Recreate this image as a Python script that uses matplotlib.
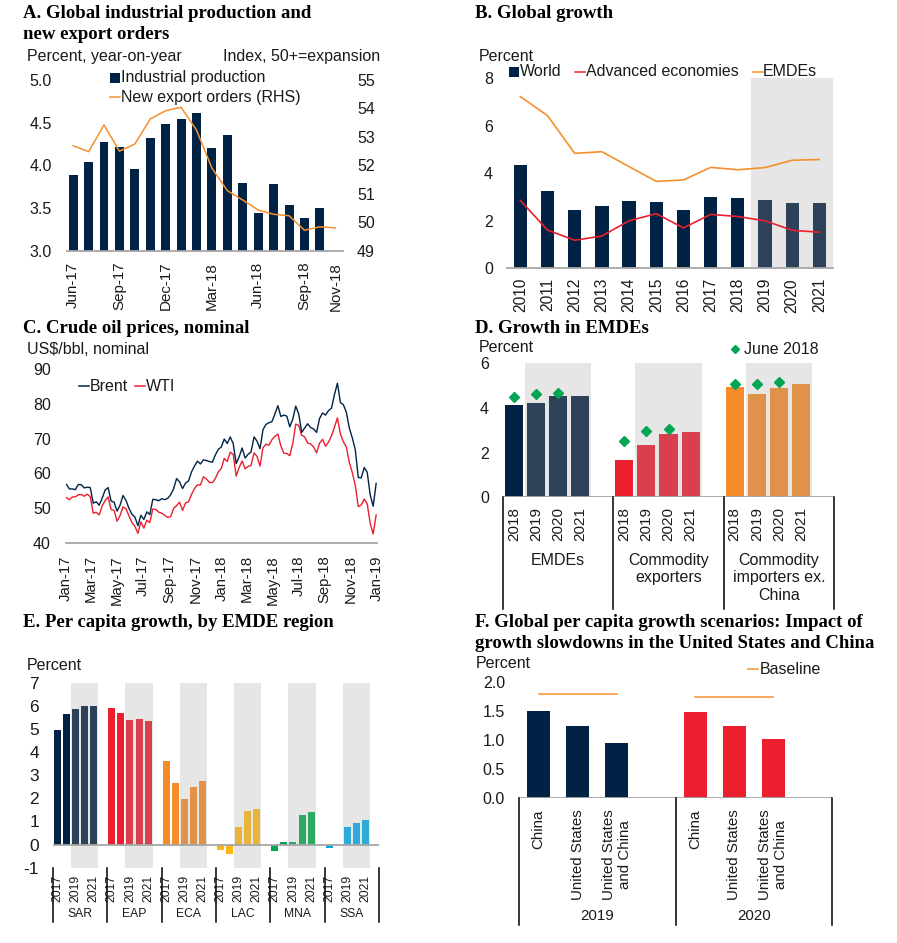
import matplotlib
matplotlib.use('Agg')
import matplotlib.pyplot as plt
import numpy as np
import pandas as pd
from matplotlib.patches import Rectangle
from matplotlib.lines import Line2D
from matplotlib.transforms import blended_transform_factory

# ---------------- DATA ----------------
# Panel A
months_a = ['Jun-17', 'Jul-17', 'Aug-17', 'Sep-17', 'Oct-17', 'Nov-17', 'Dec-17', 'Jan-18', 'Feb-18',
            'Mar-18', 'Apr-18', 'May-18', 'Jun-18', 'Jul-18', 'Aug-18', 'Sep-18', 'Oct-18', 'Nov-18']
ind_prod = [3.89, 4.04, 4.27, 4.21, 3.96, 4.32, 4.48, 4.54, 4.61, 4.20, 4.35, 3.79, 3.44, 3.78, 3.53, 3.38, 3.50]
new_export_orders = [52.69, 52.48, 53.42, 52.50, 52.75, 53.63, 53.92, 54.04, 53.24, 51.90, 51.11, 50.78,
                     50.43, 50.28, 50.23, 49.72, 49.84, 49.80]
a_tick_labels = ['Jun-17', 'Sep-17', 'Dec-17', 'Mar-18', 'Jun-18', 'Sep-18', 'Nov-18']

# Panel B
years_b = ['2010', '2011', '2012', '2013', '2014', '2015', '2016', '2017', '2018', '2019', '2020', '2021']
world_b = [4.34, 3.24, 2.46, 2.64, 2.84, 2.81, 2.47, 3.02, 2.95, 2.86, 2.75, 2.75]
advanced_b = [2.86, 1.61, 1.18, 1.36, 2.00, 2.30, 1.70, 2.27, 2.18, 2.00, 1.60, 1.52]
emdes_b = [7.23, 6.43, 4.84, 4.91, 4.28, 3.66, 3.72, 4.25, 4.15, 4.24, 4.55, 4.58]

# Panel C (weekly readings)
brent = [56.8, 55.5, 55.5, 55.3,
         56.8, 56.7, 55.8, 56.0,
         55.9, 51.4, 51.8, 50.8, 52.8,
         55.2, 55.9, 52.0, 51.7,
         49.1, 50.8, 53.6, 52.2,
         49.9, 48.2, 47.4, 44.9, 47.9,
         46.7, 48.9, 48.1, 52.5,
         52.4, 52.1, 52.7, 52.4,
         52.8, 53.8, 55.6, 58.5, 57.5,
         55.6, 57.2, 57.8, 60.4,
         62.1, 63.5, 62.7, 63.9,
         63.7, 63.4, 63.2, 65.3, 66.9,
         67.6, 69.9, 68.6, 70.5,
         68.6, 62.8, 64.8, 67.3,
         64.4, 65.5, 66.2, 70.5, 69.3,
         67.1, 72.6, 74.1, 74.6,
         74.9, 77.1, 79.5, 76.4,
         76.8, 76.5, 73.4, 75.6, 79.4,
         77.1, 71.8, 73.1, 74.3,
         73.2, 72.8, 71.8, 75.8, 77.4,
         76.8, 78.1, 78.8, 82.7,
         86.0, 80.4, 79.8, 77.6,
         73.0, 70.2, 66.8, 58.8, 58.7,
         61.7, 60.3, 53.8, 50.5,
         57.1]
wti = [53.0, 52.4, 53.2, 53.2,
       53.8, 53.9, 53.4, 54.0,
       53.3, 48.5, 48.8, 48.0, 50.6,
       52.2, 53.2, 49.6, 49.3,
       46.2, 47.8, 50.3, 49.8,
       47.7, 45.8, 44.7, 42.7, 46.0,
       44.2, 46.5, 45.8, 49.7,
       49.6, 48.8, 48.5, 47.9,
       47.3, 47.5, 49.9, 50.7, 51.7,
       49.3, 51.5, 51.8, 53.9,
       55.6, 56.7, 56.6, 59.0,
       58.4, 57.4, 57.3, 58.5, 60.4,
       61.4, 64.3, 63.4, 66.1,
       65.5, 59.2, 61.7, 63.6,
       61.3, 62.0, 62.3, 65.9, 64.9,
       62.1, 67.4, 68.4, 68.1,
       69.7, 70.7, 71.3, 67.9,
       65.8, 65.7, 65.1, 68.6, 74.2,
       73.8, 71.0, 70.5, 68.7,
       68.5, 67.6, 65.9, 68.7, 69.8,
       67.8, 69.0, 70.8, 73.3,
       76.0, 71.3, 69.1, 67.6,
       63.1, 60.2, 56.5, 50.4, 50.9,
       52.6, 51.2, 45.6, 42.5,
       48.0]

# Panel D
years_d = ['2018', '2019', '2020', '2021']
groups_d = ['EMDEs', 'Commodity\nexporters', 'Commodity\nimporters ex.\nChina']
emdes_d = [4.15, 4.21, 4.52, 4.55]
exporters_d = [1.67, 2.33, 2.85, 2.91]
importers_d = [4.94, 4.64, 4.91, 5.07]
june2018_emdes = [4.49, 4.63, 4.67]
june2018_exporters = [2.52, 2.96, 3.04]
june2018_importers = [5.06, 5.09, 5.15]

# Panel E
regions_e = ['SAR', 'EAP', 'ECA', 'LAC', 'MNA', 'SSA']
years_e = ['2017', '2018', '2019', '2020', '2021']
year_labels_e = ['2017', '', '2019', '', '2021']
sar = [4.95, 5.64, 5.86, 5.99, 5.99]
eap = [5.90, 5.69, 5.38, 5.43, 5.34]
eca = [3.61, 2.66, 1.96, 2.48, 2.74]
lac = [-0.23, -0.40, 0.75, 1.44, 1.53]
mna = [-0.27, 0.10, 0.10, 1.27, 1.40]
ssa = [-0.14, -0.02, 0.75, 0.92, 1.05]

# Panel F
years_f = ['2019', '2020']
scenarios_f = ['China', 'United States', 'United States\nand China']
f_2019 = [1.51, 1.25, 0.96]
f_2020 = [1.49, 1.24, 1.02]
baseline_f = [1.79, 1.74]

# ---------------- STYLE ----------------
W, H = 897, 943
SANS = ['Liberation Sans', 'DejaVu Sans']
SERIF = ['Liberation Serif', 'DejaVu Serif']
plt.rcParams['font.family'] = SANS
plt.rcParams['font.size'] = 11.5
plt.rcParams['axes.unicode_minus'] = False
TXT = '#1a1a1a'
AXGRAY = '#a6a6a6'
SHADE = '#e6e6e6'
NAVY, NAVY_F = '#002345', '#2d4159'
RED, RED_F = '#eb1f2e', '#d9404e'
ORANGE, ORANGE_F = '#f68b2a', '#e0924b'
YELLOW, YELLOW_F = '#fdb714', '#e8b43a'
GREEN, GREEN_F = '#00a651', '#2ba862'
BLUE, BLUE_F = '#00a3e0', '#2faad6'
LINE_OR = '#f5902d'
LINE_RED = '#eb1f2e'
DIAMOND = '#00a651'

fig = plt.figure(figsize=(W / 100, H / 100), dpi=100)


def ax_px(l, t, r, b):
    return fig.add_axes([l / W, 1 - b / H, (r - l) / W, (b - t) / H])


def ftext(x, y, s, **kw):
    kw.setdefault('color', TXT)
    return fig.text(x / W, 1 - y / H, s, **kw)


def title(x, y, s):
    ftext(x, y, s, fontfamily=SERIF, fontweight='bold', fontsize=13.5, va='baseline', color='black')


def leg_square(x0, yc, color, size=10):
    fig.add_artist(Rectangle((x0 / W, 1 - (yc + size / 2) / H), size / W, size / H,
                             transform=fig.transFigure, facecolor=color, edgecolor='none'))


def leg_line(x0, yc, color, length=10, lw=1.1):
    fig.add_artist(Line2D([x0 / W, (x0 + length) / W], [1 - yc / H] * 2,
                          transform=fig.transFigure, color=color, lw=lw))


def style(ax, ypad=10):
    for s in ['top', 'right', 'left']:
        ax.spines[s].set_visible(False)
    ax.spines['bottom'].set_color(AXGRAY)
    ax.spines['bottom'].set_linewidth(1.3)
    ax.tick_params(length=0, colors=TXT, labelsize=11.5)
    ax.tick_params(axis='y', pad=ypad)
    ax.set_facecolor('none')


def fy(ypx):
    return 1 - ypx / H


# ---------------- PANEL A ----------------
title(23, 18.3, 'A. Global industrial production and')
title(23, 39.3, 'new export orders')
ftext(27, 60.7, 'Percent, year-on-year', va='baseline', fontsize=11.5)
ftext(380, 60.7, 'Index, 50+=expansion', va='baseline', ha='right', fontsize=11.5)
axA = ax_px(67, 80, 343, 250.7)
xa = np.arange(len(months_a))
axA.bar(xa[:len(ind_prod)], ind_prod, width=0.58, color=NAVY, zorder=2)
axA.set_xlim(-0.4, len(months_a) - 0.5)
axA.set_ylim(3, 5)
axA.set_yticks(np.arange(3.0, 5.01, 0.5))
axA.set_yticklabels(['%.1f' % v for v in np.arange(3.0, 5.01, 0.5)])
style(axA, ypad=11)
tick_idx = [months_a.index(m) for m in a_tick_labels]
axA.set_xticks(tick_idx)
axA.set_xticklabels(a_tick_labels, rotation=90, fontsize=10.9)
axA.tick_params(axis='x', pad=8)
axA2 = axA.twinx()
axA2.plot(xa, new_export_orders, color=LINE_OR, lw=1.1, zorder=3)
axA2.set_ylim(49, 55)
axA2.set_yticks(range(49, 56))
for s in ['top', 'right', 'left', 'bottom']:
    axA2.spines[s].set_visible(False)
axA2.tick_params(length=0, colors=TXT, labelsize=11.5, pad=10)
leg_square(110, 77.7, NAVY)
ftext(121, 77.7, 'Industrial production', va='center', fontsize=11.5)
leg_line(110, 97.3, LINE_OR)
ftext(121, 97.3, 'New export orders (RHS)', va='center', fontsize=11.5)

# ---------------- PANEL B ----------------
title(475, 18.3, 'B. Global growth')
ftext(479, 60.7, 'Percent', va='baseline', fontsize=11.5)
axB = ax_px(506.7, 78.3, 833, 268.3)
xb = np.arange(len(years_b))
first_fc = years_b.index('2019')
axB.axvspan(first_fc - 0.5, len(years_b) - 0.5, color=SHADE, lw=0, zorder=0)
cols_b = [NAVY if i < first_fc else NAVY_F for i in range(len(years_b))]
axB.bar(xb, world_b, width=0.49, color=cols_b, zorder=2)
axB.plot(xb, advanced_b, color=LINE_RED, lw=1.2, zorder=3)
axB.plot(xb, emdes_b, color=LINE_OR, lw=1.2, zorder=3)
axB.set_xlim(-0.5, len(years_b) - 0.5)
axB.set_ylim(0, 8)
axB.set_yticks([0, 2, 4, 6, 8])
style(axB, ypad=10)
axB.set_xticks(xb)
axB.set_xticklabels(years_b, rotation=90, fontsize=11.2)
axB.tick_params(axis='x', pad=7)
leg_square(509.3, 71.7, NAVY)
ftext(520, 71.7, 'World', va='center', fontsize=11.5)
leg_line(575, 71.7, LINE_RED)
ftext(586, 71.7, 'Advanced economies', va='center', fontsize=11.5)
leg_line(752.7, 71.7, LINE_OR)
ftext(763, 71.7, 'EMDEs', va='center', fontsize=11.5)

# ---------------- PANEL C ----------------
title(23, 333.3, 'C. Crude oil prices, nominal')
ftext(27, 354, 'US$/bbl, nominal', va='baseline', fontsize=11.5)
axC = ax_px(66, 369.3, 377, 542.7)
dates_c = pd.date_range('2017-01-02', periods=len(brent), freq='7D')
axC.plot(dates_c, brent, color=NAVY, lw=1.0, zorder=3)
axC.plot(dates_c, wti, color=LINE_RED, lw=1.0, zorder=2)
axC.set_xlim(pd.Timestamp('2017-01-01'), pd.Timestamp('2019-01-02'))
axC.set_ylim(40, 90)
axC.set_yticks(range(40, 91, 10))
style(axC, ypad=11)
tick_dates = pd.date_range('2017-01-01', '2019-01-01', freq='2MS')
axC.set_xticks(tick_dates)
axC.set_xticklabels([d.strftime('%b-%y') for d in tick_dates], rotation=90, fontsize=10.7)
axC.tick_params(axis='x', pad=9)
leg_line(79.3, 386, NAVY)
ftext(90, 386, 'Brent', va='center', fontsize=11.5)
leg_line(135, 386, LINE_RED)
ftext(146, 386, 'WTI', va='center', fontsize=11.5)

# ---------------- PANEL D ----------------
title(475, 332.7, 'D. Growth in EMDEs')
ftext(479, 351.7, 'Percent', va='baseline', fontsize=11.5)
axD = ax_px(503, 363.3, 834, 497.3)
vals_d = [emdes_d, exporters_d, importers_d]
june_d = [june2018_emdes, june2018_exporters, june2018_importers]
cols_d = [(NAVY, NAVY_F), (RED, RED_F), (ORANGE, ORANGE_F)]
xt_d, xl_d = [], []
for g in range(3):
    base = g * 5
    axD.axvspan(base + 0.5, base + 3.5, color=SHADE, lw=0, zorder=0)
    xs = base + np.arange(len(years_d))
    axD.bar(xs, vals_d[g], width=0.82, color=[cols_d[g][0]] + [cols_d[g][1]] * 3, zorder=2)
    axD.plot(xs[:3], june_d[g], ls='none', marker='D', ms=5.2, color=DIAMOND, zorder=4)
    xt_d += list(xs)
    xl_d += years_d
axD.axhline(0, color=AXGRAY, lw=1.3, zorder=3)
axD.set_xlim(-0.5, 14.5)
axD.set_ylim(0, 6)
axD.set_yticks([0, 2, 4, 6])
style(axD, ypad=10)
axD.spines['bottom'].set_visible(False)
axD.set_xticks(xt_d)
axD.set_xticklabels(xl_d, rotation=90, fontsize=11)
axD.tick_params(axis='x', pad=7)
trD = blended_transform_factory(axD.transData, fig.transFigure)
for b in [-0.5, 4.5, 9.5, 14.5]:
    fig.add_artist(Line2D([b, b], [fy(497.3), fy(609)], transform=trD, color='black', lw=1.1))
for g, lab in enumerate(groups_d):
    axD.text(g * 5 + 2, fy(553), lab, transform=trD, ha='center', va='top', fontsize=11.5,
             color=TXT, linespacing=1.2)
fig.add_artist(Line2D([735 / W], [fy(349.3)], transform=fig.transFigure, marker='D', ms=4.2,
                      color=DIAMOND, ls='none'))
ftext(744, 349.3, 'June 2018', va='center', fontsize=11.5)

# ---------------- PANEL E ----------------
title(23, 627.3, 'E. Per capita growth, by EMDE region')
ftext(27, 670, 'Percent', va='baseline', fontsize=11.5)
axE = ax_px(53, 682.7, 379, 867.7)
vals_e = [sar, eap, eca, lac, mna, ssa]
cols_e = [(NAVY, NAVY_F), (RED, RED_F), (ORANGE, ORANGE_F), (YELLOW, YELLOW_F),
          (GREEN, GREEN_F), (BLUE, BLUE_F)]
xt_e, xl_e = [], []
for g in range(len(regions_e)):
    base = g * 6
    axE.axvspan(base + 1.5, base + 4.5, color=SHADE, lw=0, zorder=0)
    xs = base + np.arange(len(years_e))
    axE.bar(xs, vals_e[g], width=0.77, color=[cols_e[g][0]] * 2 + [cols_e[g][1]] * 3, zorder=2)
    xt_e += list(xs)
    xl_e += year_labels_e
axE.axhline(0, color=AXGRAY, lw=1.3, zorder=3)
axE.set_xlim(-0.5, 35.5)
axE.set_ylim(-1, 7)
axE.set_yticks(range(-1, 8))
style(axE, ypad=10)
axE.spines['bottom'].set_visible(False)
axE.tick_params(axis='y', labelsize=12.5)
axE.set_xticks(xt_e)
axE.set_xticklabels(xl_e, rotation=90, fontsize=8.7)
axE.tick_params(axis='x', pad=5)
trE = blended_transform_factory(axE.transData, fig.transFigure)
for g in range(len(regions_e) + 1):
    b = g * 6 - 0.5
    fig.add_artist(Line2D([b, b], [fy(867.7), fy(922)], transform=trE, color='black', lw=1.1))
for g, lab in enumerate(regions_e):
    axE.text(g * 6 + 2.5, fy(914), lab, transform=trE, ha='center', va='center', fontsize=8.7,
             color=TXT)

# ---------------- PANEL F ----------------
title(475, 627.3, 'F. Global per capita growth scenarios: Impact of')
title(475, 647.7, 'growth slowdowns in the United States and China')
ftext(476, 668.3, 'Percent', va='baseline', fontsize=11.5)
axF = ax_px(519, 682.3, 832, 798.3)
vals_f = [f_2019, f_2020]
cols_f = [NAVY, RED]
xt_f, xl_f = [], []
for g in range(len(years_f)):
    base = g * 4
    xs = base + np.arange(len(scenarios_f))
    axF.bar(xs, vals_f[g], width=0.59, color=cols_f[g], zorder=2)
    axF.plot([xs[0], xs[-1]], [baseline_f[g]] * 2, color=LINE_OR, lw=1.1, zorder=3)
    xt_f += list(xs)
    xl_f += scenarios_f
axF.axhline(0, color=AXGRAY, lw=1.3, zorder=3)
axF.set_xlim(-0.5, 7.5)
axF.set_ylim(0, 2.0)
axF.set_yticks(np.arange(0, 2.01, 0.5))
axF.set_yticklabels(['%.1f' % v for v in np.arange(0, 2.01, 0.5)])
style(axF, ypad=10)
axF.spines['bottom'].set_visible(False)
axF.set_xticks(xt_f)
axF.set_xticklabels(xl_f, rotation=90, fontsize=10.9, multialignment='center', linespacing=1.15)
axF.tick_params(axis='x', pad=8)
trF = blended_transform_factory(axF.transData, fig.transFigure)
for b in [-0.5, 3.5, 7.5]:
    fig.add_artist(Line2D([b, b], [fy(798.3), fy(925)], transform=trF, color='black', lw=1.1))
for g, lab in enumerate(years_f):
    axF.text(g * 4 + 1.5, fy(916), lab, transform=trF, ha='center', va='center', fontsize=10.9,
             color=TXT)
leg_line(748, 669.3, LINE_OR)
ftext(760, 669.3, 'Baseline', va='center', fontsize=11.5)

fig.savefig('out.png', dpi=100, facecolor='white')
